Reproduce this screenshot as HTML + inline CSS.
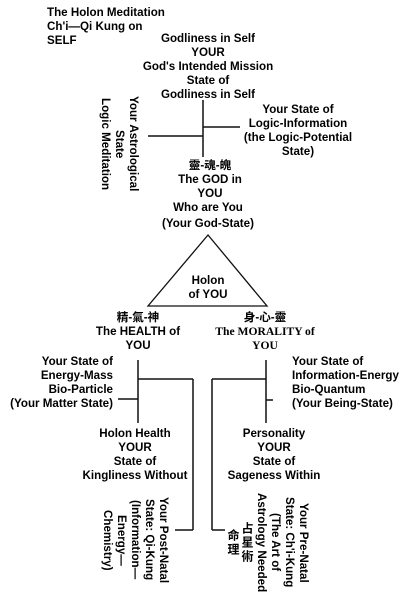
<!DOCTYPE html>
<html><head><meta charset="utf-8">
<style>
html,body{margin:0;padding:0;background:#fff;}
body{width:406px;height:601px;position:relative;overflow:hidden;font-family:"Liberation Sans","Noto Sans CJK TC",sans-serif;font-weight:bold;font-size:11.6px;color:#000;}
.t{position:absolute;white-space:nowrap;line-height:14px;}
.c{transform:translateX(-50%);text-align:center;}
.v{position:absolute;writing-mode:vertical-rl;white-space:nowrap;line-height:14px;text-align:center;}
.serif{font-family:"Liberation Serif","Noto Serif CJK SC",serif;}
.cj{font-size:12px;letter-spacing:2px;}
</style></head><body>
<svg width="406" height="601" style="position:absolute;left:0;top:0" stroke="#111" stroke-width="1.5" fill="none">
<line x1="203" y1="100" x2="203" y2="157"/>
<line x1="203" y1="127" x2="240" y2="127"/>
<line x1="148" y1="136" x2="203" y2="136"/>
<polygon points="208,235 148,306 267,306" stroke-width="1.3"/>
<line x1="138" y1="360" x2="138" y2="423"/>
<line x1="138" y1="379" x2="193" y2="379"/>
<line x1="193" y1="379" x2="193" y2="530"/>
<line x1="175" y1="530" x2="193" y2="530"/>
<line x1="118" y1="399" x2="138" y2="399"/>
<line x1="266" y1="360" x2="266" y2="423"/>
<line x1="212" y1="379" x2="266" y2="379"/>
<line x1="212" y1="379" x2="212" y2="530"/>
<line x1="212" y1="530" x2="225" y2="530"/>
<line x1="266" y1="400" x2="273" y2="400"/>
</svg>
<div class="t" style="left:47px;top:6px">The Holon Meditation<br>Ch'i—Qi Kung on<br>SELF</div>
<div class="t c" style="left:208px;top:32px">Godliness in Self<br>YOUR<br>God's Intended Mission<br>State of<br>Godliness in Self</div>
<div class="t c" style="left:298px;top:103px">Your State of<br>Logic-Information<br>(the Logic-Potential<br>State)</div>
<div class="v" style="left:98px;top:95px;height:98px">Your Astrological<br>State<br>Logic Meditation</div>
<div class="t c" style="left:210px;top:159px">靈-魂-魄<br>The GOD in<br>YOU</div>
<div class="t c" style="left:208px;top:200px;line-height:16px">Who are You<br>(Your God-State)</div>
<div class="t c" style="left:208px;top:274px">Holon<br>of YOU</div>
<div class="t c" style="left:138px;top:311px">精-氣-神<br>The HEALTH of<br>YOU</div>
<div class="t c" style="left:265px;top:311px">身-心-靈<br><span class="serif">The MORALITY of<br>YOU</span></div>
<div class="t" style="right:293px;top:355px;text-align:right">Your State of<br>Energy-Mass<br>Bio-Particle<br>(Your Matter State)</div>
<div class="t" style="left:292px;top:355px">Your State of<br>Information-Energy<br>Bio-Quantum<br>(Your Being-State)</div>
<div class="t c" style="left:135px;top:427px">Holon Health<br>YOUR<br>State of<br>Kingliness Without</div>
<div class="t c" style="left:274px;top:427px">Personality<br>YOUR<br>State of<br>Sageness Within</div>
<div class="v" style="left:100px;top:493px;height:94px">Your Post-Natal<br>State: Qi-Kung<br>(Information—<br>Energy—<br>Chemistry)</div>
<div class="v" style="left:226px;top:493px;height:99px">Your Pre-Natal<br>State: Ch'i-Kung<br>(The Art of<br>Astrology Needed<br><span class="cj">占星術</span><br><span class="cj">命理</span></div>
</body></html>
